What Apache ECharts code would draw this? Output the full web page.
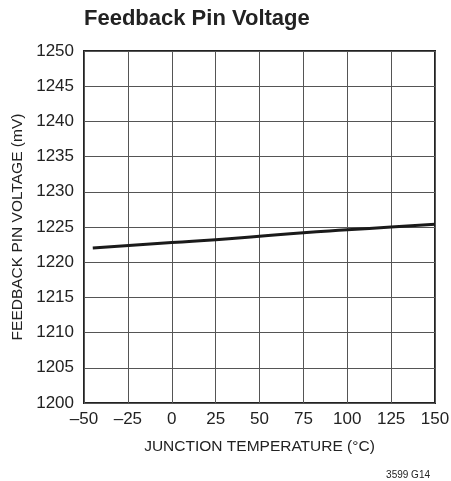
<!DOCTYPE html>
<html lang="en">
<head>
  <meta charset="UTF-8">
  <title>Feedback Pin Voltage</title>
  <script src="https://cdn.jsdelivr.net/npm/echarts@6/dist/echarts.min.js"></script>
  <style>
    html, body { margin: 0; padding: 0; background: #fff; }
  </style>
</head>
<body>
<div id="main" style="width: 451px; height: 481px;"></div>
<script>
  // junction temperature (°C) and feedback pin voltage (mV)
  var temps = [-45, 0, 25, 50, 75, 100, 125, 150]
  var volts = [1222.0, 1222.8, 1223.2, 1223.7, 1224.2, 1224.6, 1225.0, 1225.4]
  var xTicks = [-50, -25, 0, 25, 50, 75, 100, 125, 150]
  var yTicks = [1200, 1205, 1210, 1215, 1220, 1225, 1230, 1235, 1240, 1245, 1250]

  var font = '"Liberation Sans", Arial, sans-serif'
  var myChart = echarts.init(document.getElementById('main'))

  var option = {
    animation: false,
    title: [
      {
        text: 'Feedback Pin Voltage',
        left: 84, top: 8, padding: 0,
        textStyle: { fontFamily: font, fontWeight: 'bold', fontSize: 22, color: '#222' }
      },
      {
        text: '3599 G14',
        right: 21, top: 470, padding: 0,
        textStyle: { fontFamily: font, fontWeight: 'normal', fontSize: 10, color: '#222' }
      }
    ],
    grid: {
      left: 84, right: 16, top: 51, bottom: 78,
      outerBoundsMode: 'none',
      show: true, borderColor: '#222', borderWidth: 2
    },
    xAxis: {
      type: 'value',
      min: xTicks[0], max: xTicks[xTicks.length - 1], interval: 25,
      name: 'JUNCTION TEMPERATURE (°C)',
      nameLocation: 'middle', nameGap: 36,
      nameTextStyle: { fontFamily: font, fontSize: 15.5, color: '#222' },
      axisLine: { show: false },
      axisTick: { show: false },
      axisLabel: {
        fontFamily: font, fontSize: 17, color: '#222', margin: 8,
        formatter: function (v) { return v < 0 ? '\u2013' + Math.abs(v) : String(v) }
      },
      splitLine: { lineStyle: { color: '#555', width: 1 } }
    },
    yAxis: {
      type: 'value',
      min: yTicks[0], max: yTicks[yTicks.length - 1], interval: 5,
      name: 'FEEDBACK PIN VOLTAGE (mV)',
      nameLocation: 'middle', nameGap: 57,
      nameTextStyle: { fontFamily: font, fontSize: 15.5, color: '#222' },
      axisLine: { show: false },
      axisTick: { show: false },
      axisLabel: {
        fontFamily: font, fontSize: 17, color: '#222', margin: 10,
        formatter: function (v) { return String(v) }
      },
      splitLine: { lineStyle: { color: '#555', width: 1 } }
    },
    series: [
      {
        type: 'line',
        data: temps.map(function (t, i) { return [t, volts[i]] }),
        showSymbol: false,
        smooth: true,
        lineStyle: { color: '#1a1a1a', width: 3 }
      }
    ]
  }
  myChart.setOption(option)
</script>
</body>
</html>
